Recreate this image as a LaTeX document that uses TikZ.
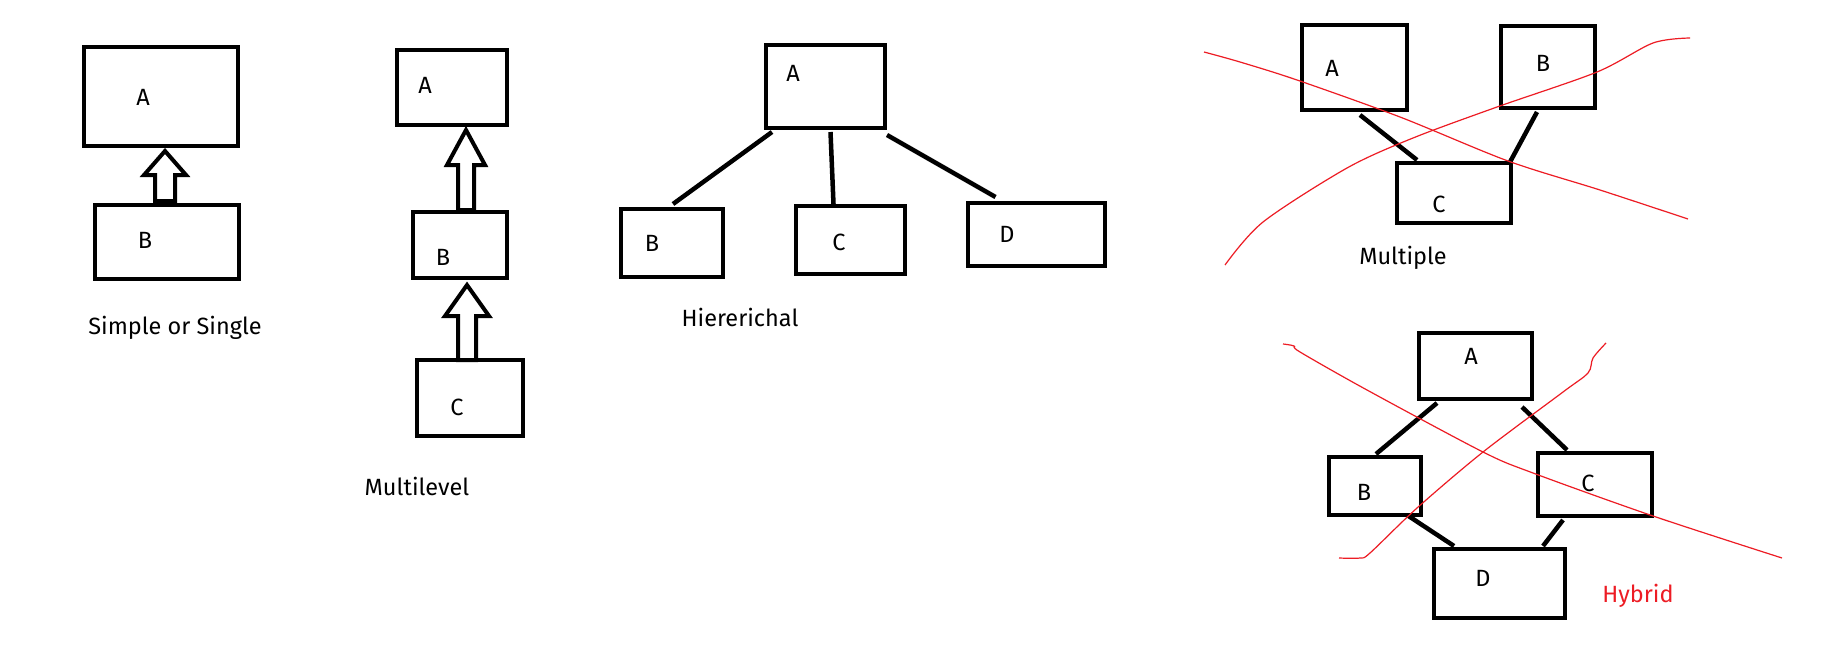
\documentclass[tikz,border=0pt]{standalone}
\usepackage{fontspec}
\setmainfont{Fira Sans}
\usetikzlibrary{calc}
\definecolor{paintred}{RGB}{237,28,36}
% box given by its outer corners (x1,y1) and (x2,y2)
\newcommand\boxnode[5]{\node[box,minimum width={(#4-#2-4)*1pt},minimum height={(#5-#3-4)*1pt}] (#1) at ({(#2+#4)/2},{(#3+#5)/2}) {};}
\begin{document}
\begin{tikzpicture}[x=1pt,y=-1pt,
  box/.style={draw,line width=4pt,inner sep=0pt},
  lbl/.style={inner sep=0pt,font=\fontsize{23.5}{26}\selectfont,text depth=0pt},
  link/.style={line width=4.5pt},
  blk/.style={draw,line width=4pt,line join=miter},
  cross/.style={draw=paintred,line width=1.2pt}]
\fill[white] (0,0) rectangle (1828,648);
\useasboundingbox (0,0) rectangle (1828,648);

% ---- Simple or Single
\boxnode{sA}{82}{45}{240}{148}
\boxnode{sB}{93}{203}{241}{281}
\node[lbl] (sAl) at (143,97) {A};
\node[lbl] (sBl) at (145,240) {B};
\node[lbl] (sCap) at (175,325) {Simple or Single};
\draw[blk] ($(sA.south)+(4,3)$) -- ++(21,24) -- ++(-11,0) -- ++(0,26) -- ++(-20,0) -- ++(0,-26) -- ++(-11,0) -- cycle;

% ---- Multilevel
\boxnode{mA}{395}{48}{509}{127}
\boxnode{mB}{411}{210}{509}{280}
\boxnode{mC}{415}{358}{525}{438}
\node[lbl] (mAl) at (425,85) {A};
\node[lbl] (mBl) at (443,257) {B};
\node[lbl] (mCl) at (457,407) {C};
\node[lbl] (mCap) at (417,486) {Multilevel};
\draw[blk] ($(mA.south)+(14,3)$) -- ++(19,35) -- ++(-11,0) -- ++(0,45) -- ++(-16,0) -- ++(0,-45) -- ++(-11,0) -- cycle;
\draw[blk] ($(mB.south)+(7,5)$) -- ++(22,31) -- ++(-13,0) -- ++(0,44) -- ++(-18,0) -- ++(0,-44) -- ++(-13,0) -- cycle;

% ---- Hiererichal
\boxnode{hA}{764}{43}{887}{130}
\boxnode{hB}{619}{207}{725}{279}
\boxnode{hC}{794}{204}{907}{276}
\boxnode{hD}{966}{201}{1107}{268}
\node[lbl] (hAl) at (793,73) {A};
\node[lbl] (hBl) at (652,243) {B};
\node[lbl] (hCl) at (839,242) {C};
\node[lbl] (hDl) at (1007,234) {D};
\node[lbl] (hCap) at (740,317) {Hiererichal};
\draw[link] ($(hA.south west)+(8,2)$) -- ($(hB.north)+(1,-3)$);
\draw[link] ($(hA.south)+(5,2)$) -- ($(hC.north)+(-17,0)$);
\draw[link] ($(hA.south east)+(0,5)$) -- ($(hD.north)+(-41,-4)$);

% ---- Multiple
\boxnode{pA}{1300}{23}{1409}{112}
\boxnode{pB}{1499}{24}{1597}{110}
\boxnode{pC}{1395}{161}{1513}{225}
\node[lbl] (pAl) at (1332,68) {A};
\node[lbl] (pBl) at (1543,63) {B};
\node[lbl] (pCl) at (1439,204) {C};
\node[lbl] (pCap) at (1403,255) {Multiple};
\draw[link] ($(pA.south)+(5.5,3)$) -- ($(pC.north)+(-37,-1)$);
\draw[link] ($(pB.south)+(-11,2)$) -- ($(pC.north east)+(-3,1)$);
\draw[cross] plot[smooth,tension=0.5] coordinates {(1204,52) (1240,62) (1297,80) (1400,117) (1508,161) (1600,190) (1688,219)};
\draw[cross] plot[smooth,tension=0.5] coordinates {(1225,265) (1263,222) (1347,168) (1413,138) (1497,107) (1597,72) (1653,43) (1690,38)};

% ---- Hybrid
\boxnode{yA}{1417}{331}{1534}{401}
\boxnode{yB}{1327}{455}{1423}{517}
\boxnode{yC}{1536}{451}{1654}{518}
\boxnode{yD}{1432}{547}{1567}{620}
\node[lbl] (yAl) at (1471,356) {A};
\node[lbl] (yBl) at (1364,492) {B};
\node[lbl] (yCl) at (1588,483) {C};
\node[lbl] (yDl) at (1483,578) {D};
\node[lbl,text=paintred] (yCap) at (1638,593) {Hybrid};
\draw[link] ($(yA.south west)+(20,2)$) -- ($(yB.north)+(1,-1)$);
\draw[link] ($(yA.south east)+(-12,6)$) -- ($(yC.north)+(-28,-1)$);
\draw[link] ($(yB.south east)+(-16,-2)$) -- ($(yD.north west)+(22,-1)$);
\draw[link] ($(yC.south west)+(27,2)$) -- ($(yD.north east)+(-24,-1)$);
\draw[cross] plot[smooth,tension=0.5] coordinates {(1283,344) (1294,346) (1300,352) (1367,390) (1483,452) (1533,473) (1653,516) (1782,558)};
\draw[cross] plot[smooth,tension=0.5] coordinates {(1339,558) (1360,558) (1370,553) (1417,508) (1483,452) (1563,392) (1588,373) (1593,358) (1606,343)};
\end{tikzpicture}
\end{document}
